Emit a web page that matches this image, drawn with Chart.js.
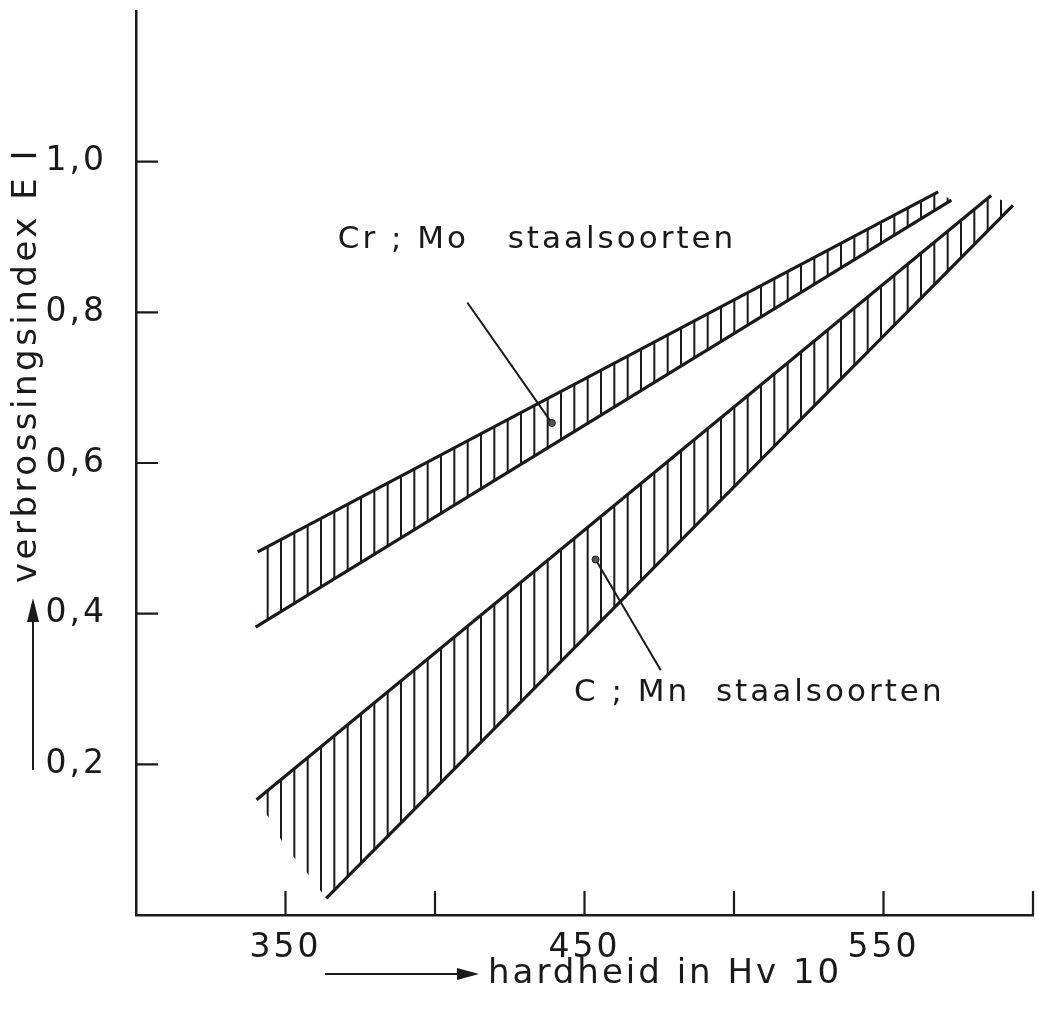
<!DOCTYPE html>
<html>
<head>
<meta charset="utf-8">
<script src="https://cdn.jsdelivr.net/npm/chart.js@4.4.1/dist/chart.umd.min.js"></script>
<style>
  html, body { margin: 0; padding: 0; background: #fff; }
  #wrap { width: 1038px; height: 1009px; }
</style>
</head>
<body>
<div id="wrap"><canvas id="verbrossing"></canvas></div>
<script>
/**********************************************
 *
 * Verbrossingsindex tegen hardheid (Hv 10)
 *
 * ****************************************/

// assen
var xMin = 300, xMax = 600, xStep = 50;
var yMin = 0, yMax = 1.2, yStep = 0.2;
var xTickValues = [350, 450, 550];
var xTickLabels = ['350', '450', '550'];
var yTickValues = [0.2, 0.4, 0.6, 0.8, 1.0];
var yTickLabels = ['0,2', '0,4', '0,6', '0,8', '1,0'];

// Cr;Mo band (boven- en ondergrens)
var crmoUpperX = [340.7, 568.3];
var crmoUpperY = [0.482, 0.960];
var crmoLowerX = [340.0, 572.7];
var crmoLowerY = [0.382, 0.949];

// C;Mn band
var cmnUpperX = [340.3, 586.0];
var cmnUpperY = [0.153, 0.955];
var cmnLowerX = [363.6, 593.3];
var cmnLowerY = [0.022, 0.942];
// losse uiteinden van de arcering links van de ondergrens
var cmnHatchEndX = [345.3, 350.0, 354.5, 358.6];
var cmnHatchEndY = [0.124, 0.089, 0.069, 0.049];

// verwijslijnen (begin bij tekst, eind met punt in de band)
var crmoLeaderX = [410.8, 439.1];
var crmoLeaderY = [0.813, 0.653];
var cmnLeaderX = [475.5, 453.7];
var cmnLeaderY = [0.325, 0.472];

var crmoLabel = 'Cr ; Mo   staalsoorten';
var cmnLabel = 'C ; Mn  staalsoorten';
var crmoLabelPos = [367.5, 0.886];
var cmnLabelPos = [446.5, 0.284];

var xTitle = 'hardheid in Hv 10';
var yTitle = 'verbrossingsindex E I';

var ink = '#1a1a1a';
var fontName = "'DejaVu Sans', sans-serif";

function pts(xs, ys) {
    return xs.map(function (x, i) { return { x: x, y: ys[i] }; });
}

// verticale arcering als patroon
function hatchPattern() {
    var c = document.createElement('canvas');
    c.width = 40; c.height = 4;
    var g = c.getContext('2d');
    g.fillStyle = ink;
    [0, 13.33, 26.67].forEach(function (x) { g.fillRect(x, 0, 2, 4); });
    return g.createPattern(c, 'repeat');
}
var hatch = hatchPattern();

var crmoShape = pts(crmoUpperX, crmoUpperY)
    .concat(pts(crmoLowerX, crmoLowerY).reverse());
var cmnShape = pts(cmnUpperX, cmnUpperY)
    .concat(pts(cmnLowerX, cmnLowerY).reverse())
    .concat(pts(cmnHatchEndX, cmnHatchEndY).reverse());

function boundary(xs, ys) {
    return {
        data: pts(xs, ys),
        borderColor: ink,
        borderWidth: 3.2,
        pointRadius: 0,
        fill: false,
        tension: 0
    };
}
function leader(xs, ys) {
    return {
        data: pts(xs, ys),
        borderColor: ink,
        borderWidth: 2,
        pointRadius: [0, 3.5],
        pointBackgroundColor: '#555',
        pointBorderColor: ink,
        pointBorderWidth: 1,
        fill: false
    };
}

function tickLabel(values, labels) {
    return function (v) {
        for (var i = 0; i < values.length; i++) {
            if (Math.abs(values[i] - v) < 1e-6) return labels[i];
        }
        return '';
    };
}

function noPadding(s) {
    s.paddingTop = 0; s.paddingBottom = 0;
    s.paddingLeft = 0; s.paddingRight = 0;
}

// binnenwaartse streepjes, astitels, pijlen en teksten
var decor = {
    id: 'decor',
    beforeDraw: function (chart) {
        chart.ctx.letterSpacing = '3px';
    },
    afterDraw: function (chart) {
        var ctx = chart.ctx, xs = chart.scales.x, ys = chart.scales.y;
        var a = chart.chartArea;
        ctx.save();
        ctx.strokeStyle = ink;
        ctx.fillStyle = ink;
        ctx.lineWidth = 2.2;
        ctx.beginPath();
        xs.ticks.forEach(function (t) {
            if (t.value <= xs.min) return;
            var px = xs.getPixelForValue(t.value);
            ctx.moveTo(px, a.bottom); ctx.lineTo(px, a.bottom - 24);
        });
        ys.ticks.forEach(function (t) {
            if (t.value <= ys.min || t.value >= ys.max - 1e-6) return;
            var py = ys.getPixelForValue(t.value);
            ctx.moveTo(a.left, py); ctx.lineTo(a.left + 22, py);
        });
        ctx.stroke();

        // annotaties
        ctx.font = '31px ' + fontName;
        ctx.letterSpacing = '3px';
        ctx.textBaseline = 'alphabetic';
        ctx.textAlign = 'left';
        ctx.fillText(crmoLabel, xs.getPixelForValue(crmoLabelPos[0]), ys.getPixelForValue(crmoLabelPos[1]));
        ctx.fillText(cmnLabel, xs.getPixelForValue(cmnLabelPos[0]), ys.getPixelForValue(cmnLabelPos[1]));

        // x-titel met pijl
        ctx.font = '34px ' + fontName;
        ctx.letterSpacing = '3px';
        ctx.textBaseline = 'middle';
        ctx.fillText(xTitle, 488, 974);
        ctx.lineWidth = 2;
        ctx.beginPath();
        ctx.moveTo(325, 974); ctx.lineTo(460, 974);
        ctx.stroke();
        ctx.beginPath();
        ctx.moveTo(479, 974); ctx.lineTo(457, 968); ctx.lineTo(457, 980); ctx.closePath();
        ctx.fill();

        // y-titel met pijl
        ctx.save();
        ctx.translate(27, 365);
        ctx.rotate(-Math.PI / 2);
        ctx.textAlign = 'center';
        ctx.font = '34px ' + fontName;
        ctx.letterSpacing = '3.5px';
        ctx.fillText(yTitle, 0, 0);
        ctx.restore();
        ctx.beginPath();
        ctx.moveTo(33, 770); ctx.lineTo(33, 620);
        ctx.stroke();
        ctx.beginPath();
        ctx.moveTo(33, 598); ctx.lineTo(27, 622); ctx.lineTo(39, 622); ctx.closePath();
        ctx.fill();
        ctx.restore();
    }
};

var ctx = document.getElementById('verbrossing').getContext('2d');
var chart = new Chart(ctx, {
    type: 'line',
    data: {
        datasets: [
            { data: crmoShape, fill: 'shape', backgroundColor: hatch, borderColor: 'rgba(0,0,0,0)', borderWidth: 0, pointRadius: 0 },
            { data: cmnShape, fill: 'shape', backgroundColor: hatch, borderColor: 'rgba(0,0,0,0)', borderWidth: 0, pointRadius: 0 },
            boundary(crmoUpperX, crmoUpperY),
            boundary(crmoLowerX, crmoLowerY),
            boundary(cmnUpperX, cmnUpperY),
            boundary(cmnLowerX, cmnLowerY),
            leader(crmoLeaderX, crmoLeaderY),
            leader(cmnLeaderX, cmnLeaderY)
        ]
    },
    options: {
        responsive: true,
        maintainAspectRatio: false,
        animation: false,
        layout: { padding: { top: 11, right: 3, left: 0, bottom: 0 } },
        plugins: {
            legend: { display: false },
            tooltip: { enabled: false }
        },
        scales: {
            x: {
                type: 'linear',
                min: xMin,
                max: xMax,
                grid: { display: false },
                border: { display: true, color: ink, width: 2.5 },
                ticks: {
                    stepSize: xStep,
                    autoSkip: false,
                    maxRotation: 0,
                    padding: 6,
                    color: ink,
                    font: { family: fontName, size: 33 },
                    callback: tickLabel(xTickValues, xTickLabels)
                },
                afterFit: function (s) { s.height = 94; noPadding(s); }
            },
            y: {
                min: yMin,
                max: yMax,
                grid: { display: false },
                border: { display: true, color: ink, width: 2.5 },
                ticks: {
                    stepSize: yStep,
                    autoSkip: false,
                    padding: 21,
                    color: ink,
                    font: { family: fontName, size: 33 },
                    callback: tickLabel(yTickValues, yTickLabels)
                },
                afterFit: function (s) { s.width = 136; noPadding(s); }
            }
        }
    },
    plugins: [decor]
});
</script>
</body>
</html>
